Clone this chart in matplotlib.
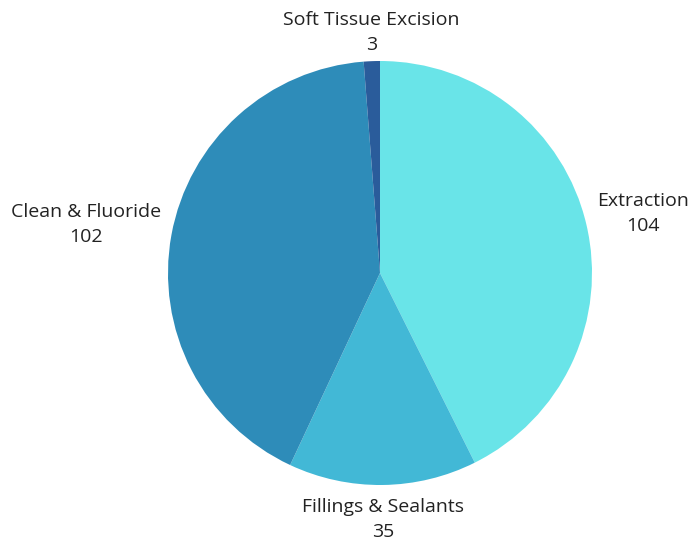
import numpy as np
import matplotlib.pyplot as plt

plt.rcParams['font.family'] = ['Open Sans', 'DejaVu Sans']

categories = ["Extraction", "Fillings & Sealants", "Clean & Fluoride", "Soft Tissue Excision"]
counts = [104, 35, 102, 3]
colors = ["#69e4e8", "#42b8d6", "#2e8cb9", "#2a5c9b"]

fig = plt.figure(figsize=(6.91, 5.43), dpi=100)
ax = fig.add_axes([168 / 691, 58 / 543, 424 / 691, 424 / 543])

wedges, _ = ax.pie(counts, colors=colors, startangle=90, counterclock=False,
                   radius=1.0, wedgeprops=dict(linewidth=0))

for w, name, n in zip(wedges, categories, counts):
    ang = np.deg2rad((w.theta1 + w.theta2) / 2)
    c, s = np.cos(ang), np.sin(ang)
    ha = 'left' if c > 0.4 else ('right' if c < -0.4 else 'center')
    va = 'bottom' if s > 0.8 else ('top' if s < -0.8 else 'center')
    r = 1.05 if s > -0.8 else 1.06
    ax.text(r * c, r * s + (0.04 if va == 'center' else 0) - (0.015 if va == 'bottom' else 0),
            f"{name}\n{n}", ha=ha, va=va, multialignment='center', fontsize=14,
            color="#222222", linespacing=1.5)

ax.set_xlim(-1, 1)
ax.set_ylim(-1, 1)
fig.savefig("out.png", dpi=100)
